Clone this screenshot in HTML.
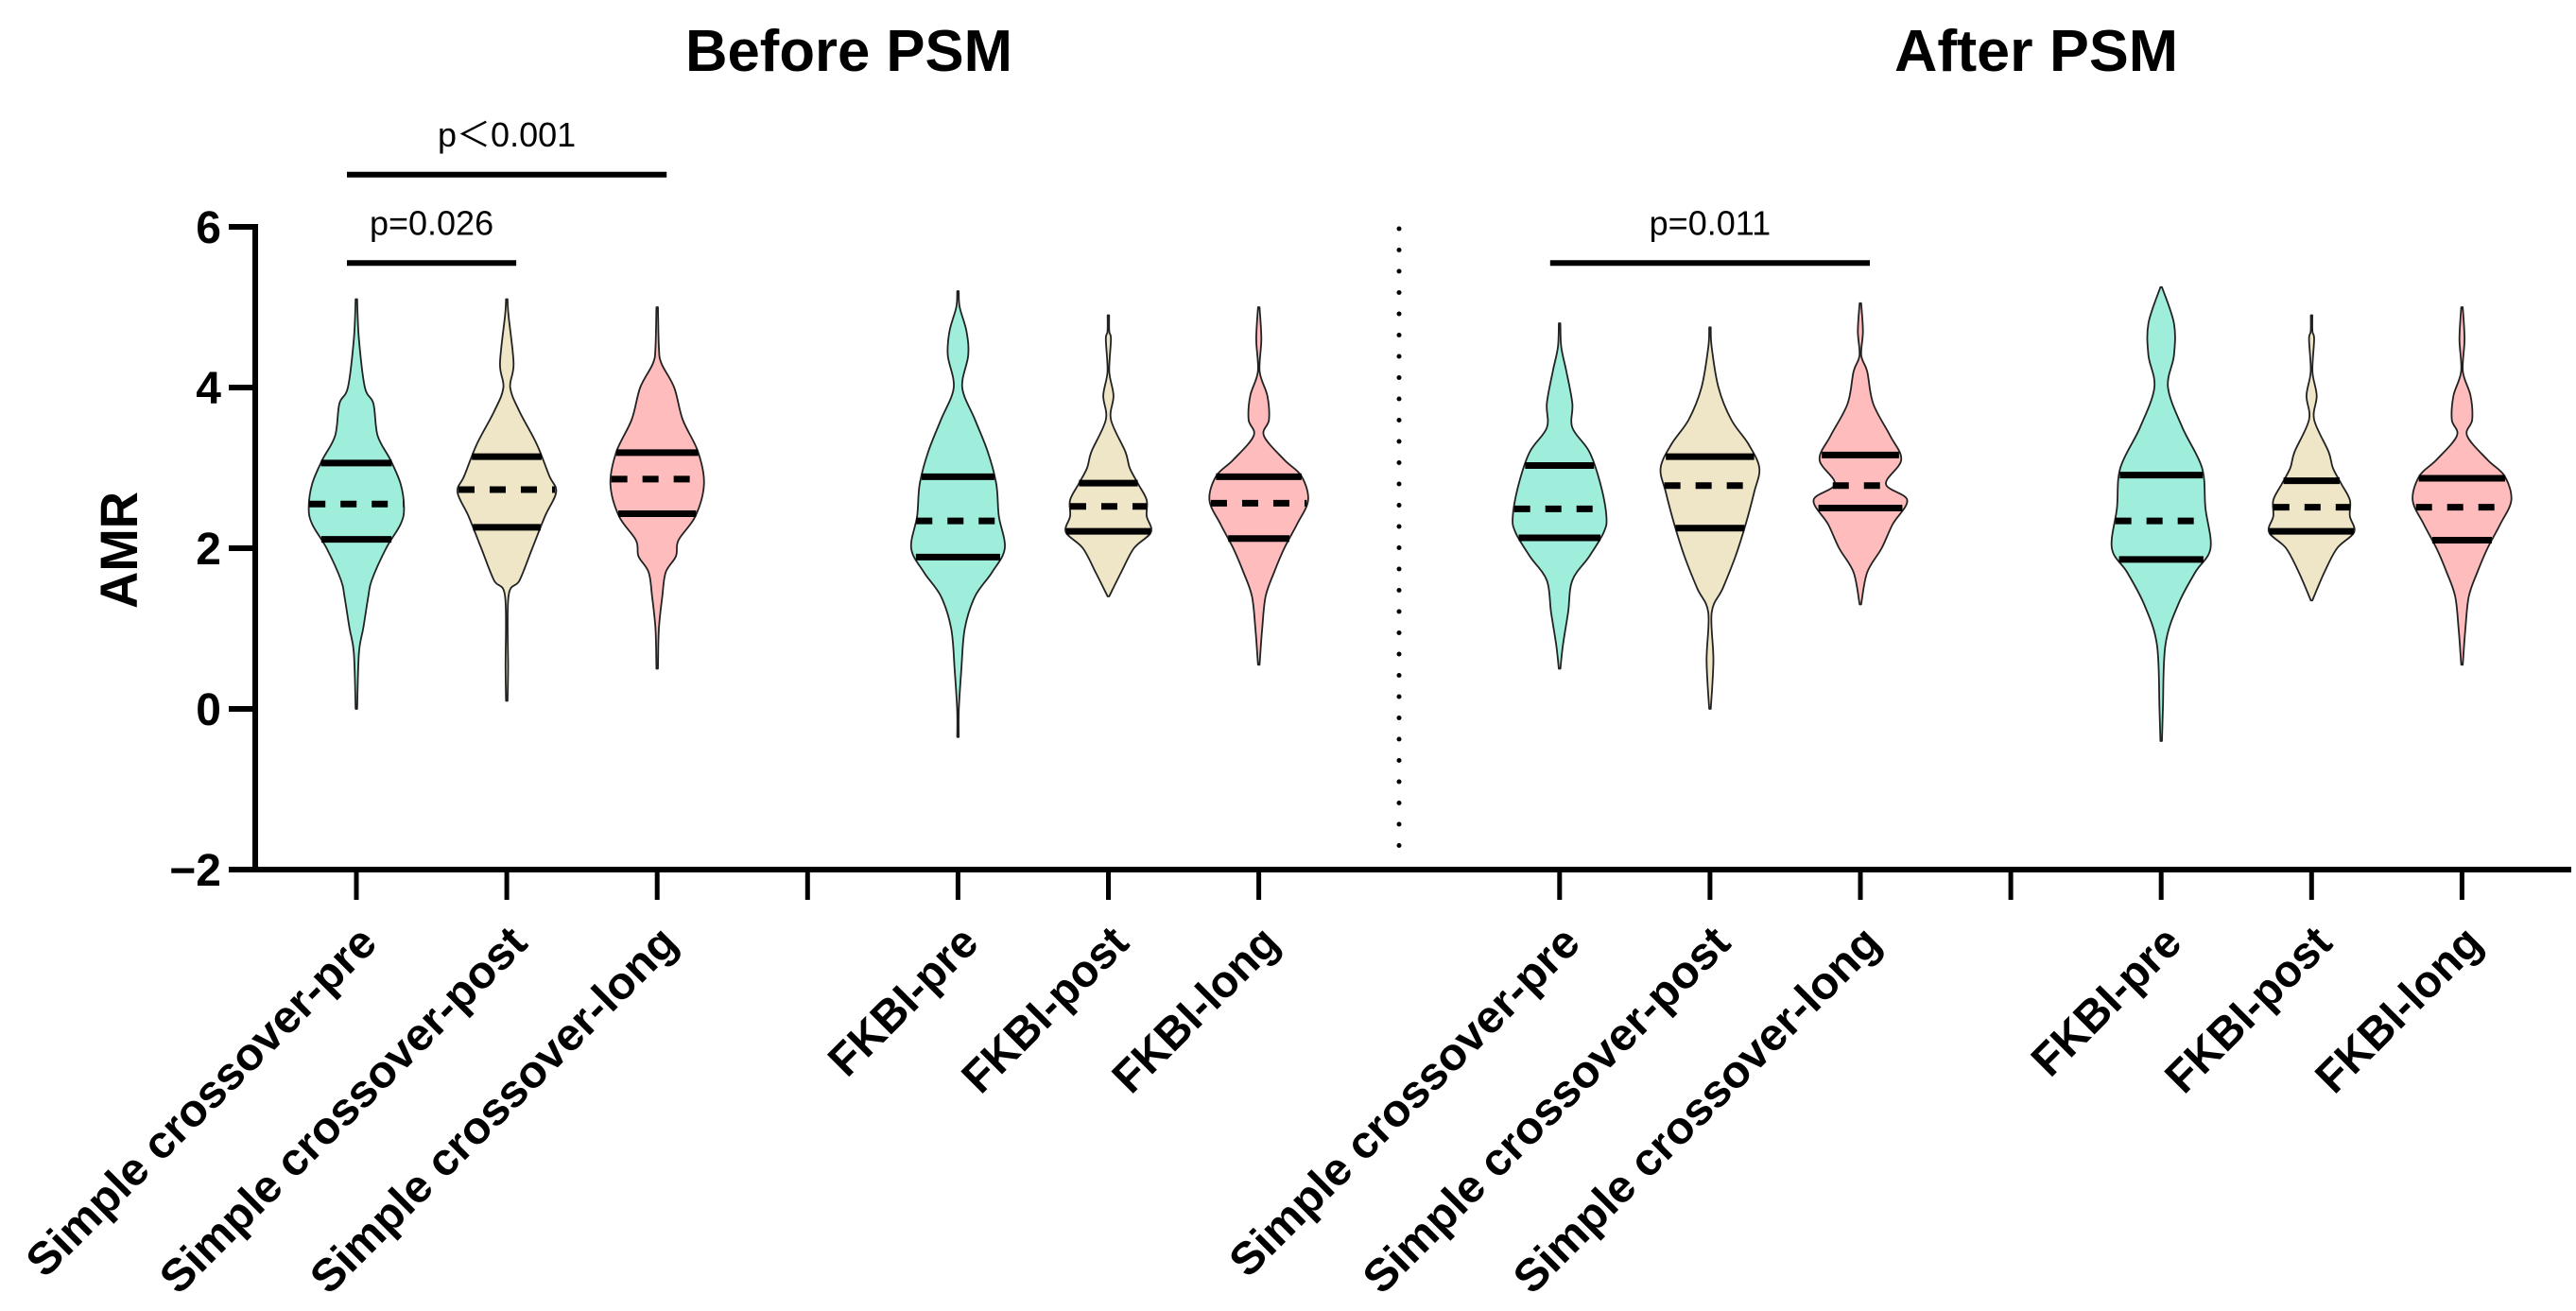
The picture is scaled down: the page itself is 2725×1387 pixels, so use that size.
<!DOCTYPE html>
<html><head><meta charset="utf-8"><style>
html,body{margin:0;padding:0;background:#fff;}
svg{display:block;font-family:"Liberation Sans",Arial,sans-serif;}
</style></head><body>
<svg id="chart" width="2725" height="1387" viewBox="0 0 2725 1387" xmlns="http://www.w3.org/2000/svg">
<text x="898" y="75" text-anchor="middle" font-size="62" font-weight="bold" textLength="346" lengthAdjust="spacingAndGlyphs">Before PSM</text>
<text x="2154" y="75" text-anchor="middle" font-size="62" font-weight="bold" textLength="300" lengthAdjust="spacingAndGlyphs">After PSM</text>
<text transform="translate(145,582) rotate(-90)" text-anchor="middle" font-size="56" font-weight="bold" textLength="124" lengthAdjust="spacingAndGlyphs">AMR</text>
<g id="violins"></g>
<g id="axes"></g>
</svg>
<script>
const categories=["Simple crossover-pre","Simple crossover-post","Simple crossover-long","FKBI-pre","FKBI-post","FKBI-long","Simple crossover-pre","Simple crossover-post","Simple crossover-long","FKBI-pre","FKBI-post","FKBI-long"];
const slots=[0,1,2,4,5,6,8,9,10,12,13,14];
const gapSlots=[3,11];
const q1=[2.11,2.26,2.43,1.89,2.21,2.12,2.13,2.25,2.50,1.86,2.21,2.10];
const medians=[2.55,2.73,2.86,2.34,2.52,2.56,2.49,2.78,2.78,2.34,2.51,2.51];
const q3=[3.06,3.14,3.19,2.89,2.81,2.89,3.03,3.14,3.16,2.91,2.84,2.87];
const mins=[0.0,0.1,0.5,-0.35,1.4,0.55,0.5,0.0,1.3,-0.4,1.35,0.55];
const maxs=[5.1,5.1,5.0,5.2,4.9,5.0,4.8,4.75,5.05,5.25,4.9,5.0];
const densLevels=[
[4.6,4.0,3.8,3.4,3.1,2.8,2.5,2.3,2.0,1.6,1.4,1.0,0.7],
[4.9,4.3,4.0,3.7,3.3,2.9,2.7,2.4,2.0,1.6,1.4,0.5],
[4.5,4.3,4.0,3.6,3.2,2.8,2.4,2.1,1.9,1.7,1.4,1.0],
[5.0,4.7,4.4,4.0,3.6,3.2,2.8,2.4,2.0,1.7,1.4,1.0,0.5,0.0],
[4.7,4.6,4.2,3.9,3.6,3.2,3.0,2.8,2.6,2.4,2.2,2.0,1.7],
[4.6,4.2,3.9,3.6,3.4,3.1,2.9,2.6,2.3,2.0,1.7,1.4,1.0],
[4.5,4.2,3.8,3.5,3.2,2.8,2.4,2.2,1.9,1.6,1.2,0.8],
[4.5,4.0,3.6,3.3,3.0,2.7,2.3,1.9,1.5,1.2,0.6],
[4.7,4.4,4.2,3.8,3.4,3.1,2.8,2.6,2.3,2.0,1.7],
[4.8,4.4,4.0,3.5,3.0,2.5,2.0,1.7,1.3,0.8,0.0],
[4.7,4.6,4.2,3.9,3.6,3.2,3.0,2.8,2.6,2.4,2.2,2.0,1.7],
[4.6,4.2,3.9,3.6,3.4,3.1,2.9,2.6,2.3,2.0,1.7,1.4,1.0]];
const densWidths=[
[3,10,20,25,40,52,56,52,35,18,14,8,3],
[2,8,4,15,35,50,58,45,30,15,2,1.5],
[2,5,20,30,48,55,45,25,22,10,6,2],
[2,10,12,5,20,35,45,48,55,40,20,8,4,1],
[1,3,1,6,3,20,25,35,45,45,50,30,15],
[3,1,10,12,6,30,50,58,45,30,18,8,4],
[2,8,15,15,35,48,55,52,35,15,10,4],
[2,10,25,45,58,52,42,30,15,2,4],
[3,1,8,15,35,48,30,55,38,25,8],
[15,15,8,25,48,52,58,40,20,5,2],
[1,3,1,6,3,20,25,35,45,45,50,30,15],
[3,1,10,12,6,30,50,58,45,30,18,8,4]];
const colors=["#9eeedb","#efe6c8","#ffbcbc","#9eeedb","#efe6c8","#ffbcbc","#9eeedb","#efe6c8","#ffbcbc","#9eeedb","#efe6c8","#ffbcbc"];
const yTicks=[-2,0,2,4,6];
const sigLabels=["p＜0.001","p=0.026","p=0.011"];
const sigFrom=[0,0,6];
const sigTo=[2,1,8];
const sigLevel=[6.65,5.55,5.55];

const NS="http://www.w3.org/2000/svg";
const X0=377, STEP=159.1, AXX=270;
function xPos(slot){return X0+slot*STEP;}
function yPos(v){return 750-85*v;}
const WS=0.9;
function mk(tag,attrs,parent){const e=document.createElementNS(NS,tag);for(const k in attrs)e.setAttribute(k,attrs[k]);parent.appendChild(e);return e;}
const vg=document.getElementById('violins'), ag=document.getElementById('axes');

function halfAt(i,v){
  const L=[maxs[i]].concat(densLevels[i],[mins[i]]);
  const W=[0].concat(densWidths[i],[0]);
  for(let k=0;k<L.length-1;k++){if(v<=L[k]&&v>=L[k+1]){const t=(L[k]-v)/(L[k]-L[k+1]);return (W[k]+(W[k+1]-W[k])*t)*WS;}}
  return 0;
}
function smooth(pts){
  let d="";
  for(let k=0;k<pts.length-1;k++){
    const p0=pts[Math.max(0,k-1)],p1=pts[k],p2=pts[k+1],p3=pts[Math.min(pts.length-1,k+2)];
    const c1=[p1[0]+(p2[0]-p0[0])/6,p1[1]+(p2[1]-p0[1])/6];
    const c2=[p2[0]-(p3[0]-p1[0])/6,p2[1]-(p3[1]-p1[1])/6];
    d+=` C${c1[0].toFixed(1)},${c1[1].toFixed(1)} ${c2[0].toFixed(1)},${c2[1].toFixed(1)} ${p2[0].toFixed(1)},${p2[1].toFixed(1)}`;
  }
  return d;
}
categories.forEach((c,i)=>{
  const cx=xPos(slots[i]);
  const L=[maxs[i]].concat(densLevels[i],[mins[i]]);
  const W=[0].concat(densWidths[i],[0]);
  const right=L.map((v,k)=>[cx+Math.max(W[k]*WS,0.8),yPos(v)]);
  const left=L.map((v,k)=>[cx-Math.max(W[k]*WS,0.8),yPos(v)]).reverse();
  const d="M"+right[0][0]+","+right[0][1]+smooth(right)+" L"+left[0][0]+","+left[0][1]+smooth(left)+" Z";
  const g=mk('g',{},vg);
  
  
  const p=mk('path',{d:d,fill:colors[i],stroke:'#222',"stroke-width":1.8,"stroke-linejoin":"round"},g);
  
  
  [[q1[i],'quartile-1-line',null],[medians[i],'median-line','17 16'],[q3[i],'quartile-3-line',null]].forEach(([v,n,da])=>{
    const h=halfAt(i,v);
    const l=mk('line',{x1:cx-h,x2:cx+h,y1:yPos(v),y2:yPos(v),stroke:'#000',"stroke-width":7},g);
    if(da){l.setAttribute('stroke-dasharray',da);}
    
    
  });
});
const ya=mk('line',{x1:AXX,x2:AXX,y1:yPos(6)-3,y2:yPos(-2)+3,stroke:'#000',"stroke-width":6},ag);


yTicks.forEach(t=>{
  const l=mk('line',{x1:AXX-28,x2:AXX,y1:yPos(t),y2:yPos(t),stroke:'#000',"stroke-width":6},ag);
  
  
  const tx=mk('text',{x:AXX-36,y:yPos(t)+17,"text-anchor":"end","font-size":48,"font-weight":"bold"},ag);
  tx.textContent=t<0?'\u2212'+Math.abs(t):String(t);
  
  
});
const xa=mk('line',{x1:AXX-3,x2:2720,y1:yPos(-2),y2:yPos(-2),stroke:'#000',"stroke-width":6},ag);


slots.concat(gapSlots).forEach(s=>{
  const l=mk('line',{x1:xPos(s),x2:xPos(s),y1:yPos(-2),y2:yPos(-2)+32,stroke:'#000',"stroke-width":5},ag);
  
  
});
categories.forEach((c,i)=>{
  const x=xPos(slots[i])+24, y=1000;
  const tx=mk('text',{transform:`translate(${x},${y}) rotate(-45)`,"text-anchor":"end","font-size":48,"font-weight":"bold",textLength:(c.length*25),lengthAdjust:"spacingAndGlyphs"},ag);
  tx.textContent=c;
  
  
});
const dv=mk('line',{x1:1480,x2:1480,y1:yPos(6)+2,y2:yPos(-2)-6,stroke:'#000',"stroke-width":5,"stroke-dasharray":"0 22.5","stroke-linecap":"round"},ag);


sigLabels.forEach((s,k)=>{
  const x1=xPos(slots[sigFrom[k]])-10, x2=xPos(slots[sigTo[k]])+10, y=yPos(sigLevel[k]);
  const l=mk('line',{x1:x1,x2:x2,y1:y,y2:y,stroke:'#000',"stroke-width":6},ag);
  
  
  const tx=mk('text',{x:(x1+x2)/2,y:y-30,"text-anchor":"middle","font-size":36},ag);
  tx.textContent=s;
  
  
});
</script>
</body></html>
